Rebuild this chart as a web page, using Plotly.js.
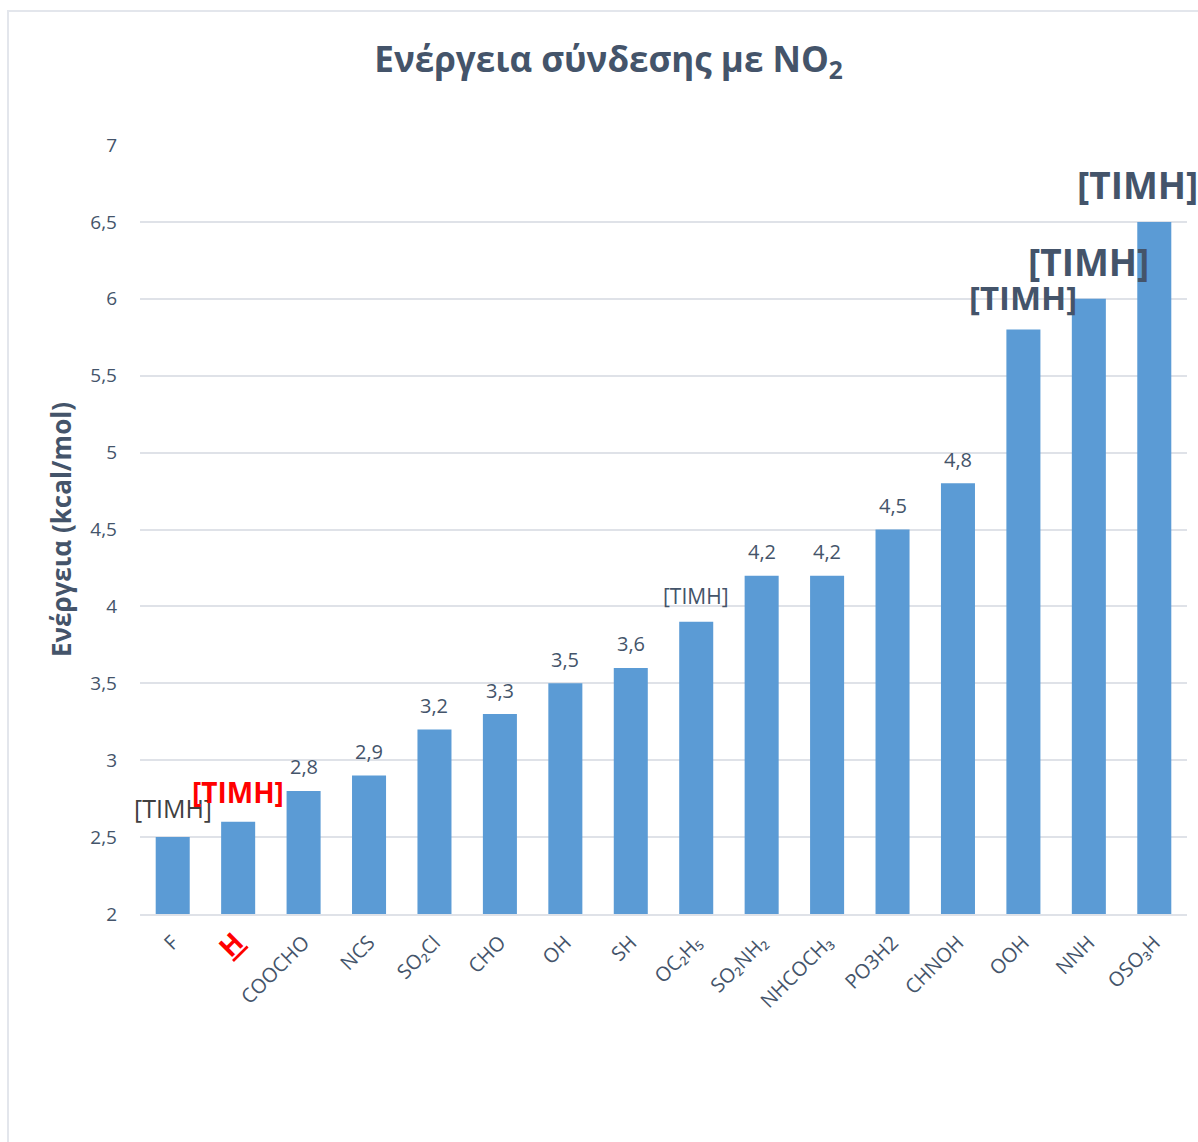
<!DOCTYPE html>
<html>
<head>
<meta charset="utf-8">
<script src="https://cdn.plot.ly/plotly-3.0.1.min.js"></script>
<style>
  html, body { margin: 0; padding: 0; background: #ffffff; overflow: hidden; width: 1198px; height: 1142px; }
  #frame { position: absolute; left: 7px; top: 10px; width: 1195px; height: 1136px; border: 2px solid #e3e6ec; border-right: none; border-bottom: none; box-sizing: border-box; }
  #chart { position: absolute; left: 0; top: 0; width: 1198px; height: 1142px; }
</style>
</head>
<body>
<div id="frame"></div>
<div id="chart"></div>
<script>
// ---- data ----
const categories = ['F', 'H', 'COOCHO', 'NCS', 'SO₂Cl', 'CHO', 'OH', 'SH', 'OC₂H₅', 'SO₂NH₂', 'NHCOCH₃', 'PO3H2', 'CHNOH', 'OOH', 'NNH', 'OSO₃H'];
const tickLabels = ['F', 'H', 'COOCHO', 'NCS', 'SO₂Cl', 'CHO', 'OH', 'SH', 'OC₂H₅', 'SO₂NH₂', 'NHCOCH₃', 'PO3H2', 'CHNOH', 'OOH', 'NNH', 'OSO₃H'];
const energy = [2.5, 2.6, 2.8, 2.9, 3.2, 3.3, 3.5, 3.6, 3.9, 4.2, 4.2, 4.5, 4.8, 5.8, 6.0, 6.5];
const dataLabels = ['[TIMH]', '[TIMH]', '2,8', '2,9', '3,2', '3,3', '3,5', '3,6', '[TIMH]', '4,2', '4,2', '4,5', '4,8', '[TIMH]', '[TIMH]', '[TIMH]'];
const yTicks = [2, 2.5, 3, 3.5, 4, 4.5, 5, 5.5, 6, 6.5, 7];

// ---- styling (per-label style overrides) ----
const slate = '#44546a';
const defaultLabelStyle = { size: 20, color: slate, bold: false, xshift: 0, yshift: 24 };
const labelStyle = {
  0: { size: 25, color: '#404040', yshift: 29 },
  1: { size: 28, color: '#ff0000', bold: true, yshift: 30 },
  8: { size: 21, yshift: 26 },
  13: { size: 33, bold: true, yshift: 32, xshift: 0 },
  14: { size: 37, bold: true, yshift: 37 },
  15: { size: 37, bold: true, yshift: 37, xshift: -17 }
};

const tickText = tickLabels.map((t, i) =>
  i === 1 ? '<span style="color:#ff0000;font-size:27px"><b><u>' + t + '</u></b></span>' : t);

const annotations = categories.map((c, i) => {
  const s = Object.assign({}, defaultLabelStyle, labelStyle[i] || {});
  return {
    x: c, y: energy[i], xref: 'x', yref: 'y',
    text: s.bold ? '<b>' + dataLabels[i] + '</b>' : dataLabels[i],
    showarrow: false, xanchor: 'center', yanchor: 'middle',
    xshift: s.xshift, yshift: s.yshift,
    font: { family: 'Open Sans, sans-serif', size: s.size, color: s.color }
  };
});

const trace = {
  type: 'bar',
  x: categories,
  y: energy,
  marker: { color: '#5b9bd5' },
  width: 0.52,
  hoverinfo: 'x+y'
};

const layout = {
  width: 1198, height: 1142,
  autosize: false,
  paper_bgcolor: 'rgba(0,0,0,0)', plot_bgcolor: 'rgba(0,0,0,0)',
  separators: ',.',
  margin: { l: 140, r: 11, t: 145, b: 228, autoexpand: false },
  font: { family: 'Open Sans, sans-serif', color: slate },
  title: {
    text: '<b>Ενέργεια σύνδεσης με NO<sub>2</sub></b>',
    font: { size: 35, color: slate, family: 'Open Sans, sans-serif' },
    x: 0.508, xanchor: 'center', y: 0.948, yanchor: 'middle'
  },
  xaxis: {
    type: 'category',
    automargin: false,
    range: [-0.5, 15.5],
    tickmode: 'array', tickvals: categories, ticktext: tickText,
    tickangle: -45,
    tickfont: { size: 20, color: slate },
    ticklabelstandoff: 7,
    showgrid: false, zeroline: false,
    showline: true, linecolor: '#dfe2e8', linewidth: 2,
    ticks: '', ticklen: 0
  },
  yaxis: {
    automargin: true,
    range: [2, 7],
    tickmode: 'array', tickvals: yTicks,
    tickformat: '.1~f',
    tickfont: { size: 19, color: slate },
    gridcolor: '#dfe2e8', gridwidth: 2,
    zeroline: false, showline: false,
    ticks: '', ticklabelstandoff: 22,
    title: { text: '<b>Ενέργεια (kcal/mol)</b>', font: { size: 26, color: slate }, standoff: 11 }
  },
  bargap: 0.48,
  showlegend: false,
  annotations: annotations
};

Plotly.newPlot('chart', [trace], layout, { displayModeBar: false, staticPlot: true });
</script>
</body>
</html>
